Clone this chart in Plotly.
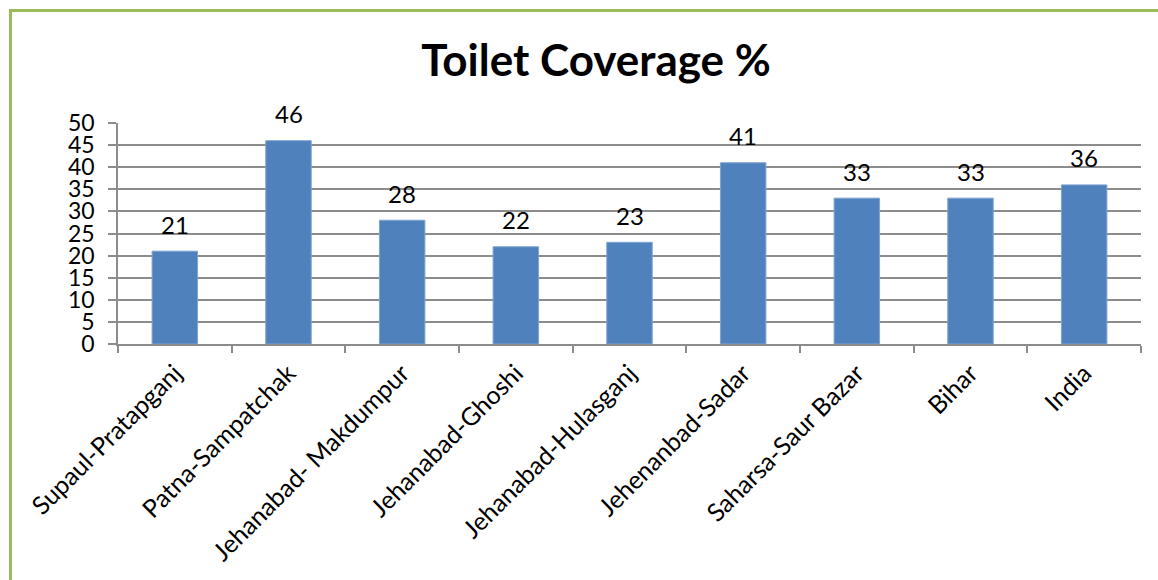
import plotly.graph_objects as go

categories = ["Supaul-Pratapganj", "Patna-Sampatchak", "Jehanabad- Makdumpur",
              "Jehanabad-Ghoshi", "Jehanabad-Hulasganj", "Jehenanbad-Sadar",
              "Saharsa-Saur Bazar", "Bihar", "India"]
values = [21, 46, 28, 22, 23, 41, 33, 33, 36]
y_ticks = [0, 5, 10, 15, 20, 25, 30, 35, 40, 45, 50]

FONT = "Lato"
GRID = "#8c8c8c"
GREEN = "#9BBB59"

fig = go.Figure()
fig.add_trace(go.Bar(
    x=categories, y=values,
    marker=dict(color="#4F81BD", line=dict(color="#7fa3d1", width=1)),
    hoverinfo="x+y",
))

for c, v in zip(categories, values):
    fig.add_annotation(x=c, y=v, text=str(v), showarrow=False,
                       yshift=27, yanchor="middle",
                       font=dict(family=FONT, size=24, color="black"))

L, R, T, B = 118, 17, 123, 236
W, H = 1158, 580
pw, ph = W - L - R, H - T - B

def px_x(x):
    return (x - L) / pw

def px_y(y):
    return (H - B - y) / ph

fig.add_shape(type="line", xref="paper", yref="paper",
              x0=px_x(10.5), x1=px_x(1165), y0=px_y(10.5), y1=px_y(10.5),
              line=dict(color=GREEN, width=3))
fig.add_shape(type="line", xref="paper", yref="paper",
              x0=px_x(10.5), x1=px_x(10.5), y0=px_y(9), y1=px_y(590),
              line=dict(color=GREEN, width=3))

fig.update_layout(
    width=W, height=H,
    margin=dict(l=L, r=R, t=T, b=B, autoexpand=False),
    paper_bgcolor="white", plot_bgcolor="white",
    bargap=0.6,
    showlegend=False,
    title=dict(text="<b>Toilet Coverage %</b>", x=596 / W, y=1 - 61 / H,
               xanchor="center", yanchor="middle", xref="container", yref="container",
               font=dict(family=FONT, size=44, color="black")),
    font=dict(family=FONT, color="black"),
)
fig.update_yaxes(range=[0, 50], tickvals=y_ticks, showgrid=True,
                 gridcolor=GRID, gridwidth=1.5,
                 showline=True, linecolor=GRID, linewidth=1.5,
                 ticks="outside", ticklen=8, tickcolor=GRID, tickwidth=1.5,
                 ticklabelstandoff=9,
                 tickfont=dict(family=FONT, size=23, color="black"),
                 zeroline=False, fixedrange=True)
fig.update_xaxes(showline=True, linecolor=GRID, linewidth=1.5,
                 ticks="outside", tickson="boundaries", ticklen=7,
                 tickcolor=GRID, tickwidth=1.5, tickangle=-45,
                 ticklabelstandoff=3,
                 tickfont=dict(family=FONT, size=25, color="black"),
                 showgrid=False, fixedrange=True)

fig.write_html("out.html", post_script="document.body.style.margin='0';",
               config={"displayModeBar": False})
